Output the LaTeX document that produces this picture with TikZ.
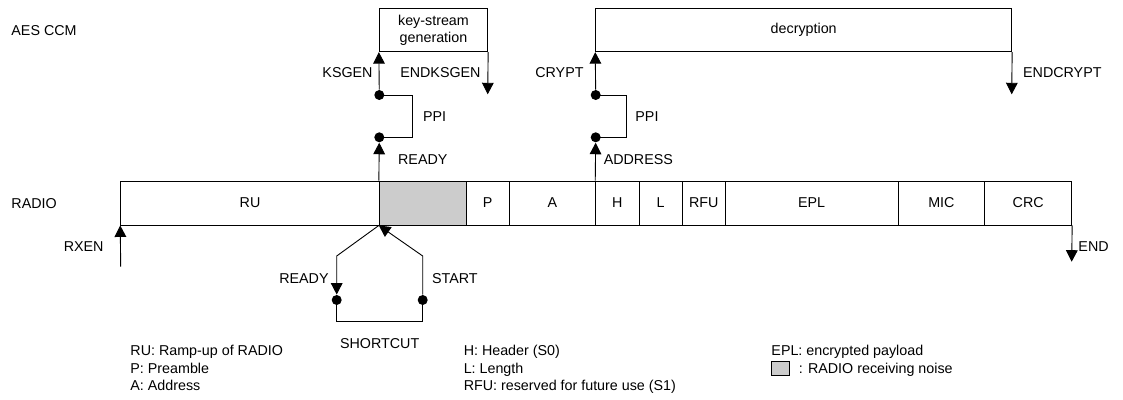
\documentclass[tikz,border=0pt]{standalone}
\usepackage{fontspec}
\setmainfont{Liberation Sans}
\usetikzlibrary{arrows.meta, positioning}
\definecolor{noisegray}{RGB}{204, 204, 204}

\begin{document}
\begin{tikzpicture}[x=1pt, y=-1pt, font=\fontsize{14.3}{17.5}\selectfont, line width=0.9pt,
        seg/.style={draw, minimum height=44pt, inner sep=0pt},
        lbl/.style={inner sep=0pt, text height=10.2pt, text depth=0pt},
        joint/.style={circle, fill, inner sep=0pt, minimum size=10pt},
        sigarrow/.style={-{Triangle[width=11.7pt, length=11.5pt]}}]
        \useasboundingbox (0,0) rectangle (1123,399);
        % radio packet
        \node[seg, fill=noisegray, minimum width=86.7pt] (noise) at (422.65,203) {};
        \foreach \nm/\l/\r/\lbl in {
            ru/120.7/379.3/{RU},
            p/466/509.3/{P},
            a/509.3/595.7/{A},
            h/595.7/639/{H},
            l/639/682.3/{L},
            rfu/682.3/725.3/{RFU},
            epl/725.3/898/{EPL},
            mic/898/984.7/{MIC},
            crc/984.7/1071.7/{CRC}}
        {
            \node[seg, minimum width={(\r-\l)*1pt}] (\nm) at ({(\l+\r)/2},203) {\lbl};
        }
        \node[lbl, anchor=west] (radiolbl) at (11,203) {RADIO};
        \node[lbl, anchor=west] (aeslbl) at (11,30) {AES CCM};
        % AES CCM tasks
        \node[draw, minimum width=108.4pt, minimum height=43.4pt, align=center,
            font=\fontsize{14.3}{16.7}\selectfont] (ksgen) at (433.5,30) {key-stream\\generation};
        \node[draw, minimum width=416pt, minimum height=43.4pt] (decrypt) at (803.7,30) {decryption};
        % key-stream start
        \node[joint] (ksout) at (379.3,95) {};
        \node[joint] (ksin) at (379.3,137.3) {};
        \draw[sigarrow] (ksout) -- (ksgen.south west);
        \draw (ksout.center) -- ++(33,0) |- (ksin.center);
        \draw[sigarrow] (noise.north west) -- (ksin);
        \coordinate (ksend) at (487.7,94.3);
        \draw[sigarrow] (ksgen.south east) -- (ksend);
        \node[lbl, anchor=east] (kslbl) at (373,72.7) {KSGEN};
        \node[lbl, anchor=east] (ksendlbl) at (481,72.7) {ENDKSGEN};
        \node[lbl, anchor=west] (ppia) at (422.7,116) {PPI};
        \node[lbl, anchor=west] (rdya) at (397.7,159) {READY};
        % decryption start
        \node[joint] (crout) at (595.7,95) {};
        \node[joint] (crin) at (595.7,137.3) {};
        \draw[sigarrow] (crout) -- (decrypt.south west);
        \draw (crout.center) -- ++(30.3,0) |- (crin.center);
        \draw[sigarrow] (h.north west) -- (crin);
        \coordinate (crend) at (1011.7,94.3);
        \draw[sigarrow] (decrypt.south east) -- (crend);
        \node[lbl, anchor=east] (crlbl) at (584,72.7) {CRYPT};
        \node[lbl, anchor=west] (crendlbl) at (1022.7,72.7) {ENDCRYPT};
        \node[lbl, anchor=west] (ppib) at (635,116) {PPI};
        \node[lbl, anchor=west] (addrlbl) at (603.3,159) {ADDRESS};
        % radio enable and end
        \coordinate (rxen) at (120.7,266.7);
        \draw[sigarrow] (rxen) -- (ru.south west);
        \node[lbl, anchor=east] (rxenlbl) at (104,246) {RXEN};
        \coordinate (rxend) at (1071.7,261.7);
        \draw[sigarrow] (crc.south east) -- (rxend);
        \node[lbl, anchor=west] (endlbl) at (1078,246) {END};
        % shortcut
        \coordinate (scl) at (336.7,256);
        \coordinate (scr) at (422.7,256);
        \node[joint] (scrdy) at (336.7,300) {};
        \node[joint] (scstart) at (422.7,300) {};
        \draw[sigarrow] (noise.south west) -- (scl) -- (scrdy);
        \draw[sigarrow] (scstart) -- (scr) -- (noise.south west);
        \draw (scrdy.center) -- ++(0,21.7) -| (scstart.center);
        \node[lbl, anchor=east] (rdyb) at (329,278) {READY};
        \node[lbl, anchor=west] (startlbl) at (431.7,278) {START};
        \node[lbl] (sclbl) at (379.7,343.3) {SHORTCUT};
        % legend
        \foreach \i/\yy/\txt in {1/350/{RU: Ramp-up of RADIO}, 2/368.3/{P: Preamble}, 3/385.5/{A: Address}}
            \node[lbl, anchor=west] (lega\i) at (130,\yy) {\txt};
        \foreach \i/\yy/\txt in {1/350/{H: Header (S0)}, 2/368.3/{L: Length}, 3/385.5/{RFU: reserved for future use (S1)}}
            \node[lbl, anchor=west] (legb\i) at (463.3,\yy) {\txt};
        \node[lbl, anchor=west] (legc1) at (771,350) {EPL: encrypted payload};
        \node[draw, fill=noisegray, line width=0.6pt, minimum width=17.3pt, minimum height=14.7pt, inner sep=0pt] (legbox) at (780.4,368.3) {};
        \node[lbl, anchor=west] (legc2) at (798.3,368.3) {: RADIO receiving noise};
    \end{tikzpicture}
\end{document}
